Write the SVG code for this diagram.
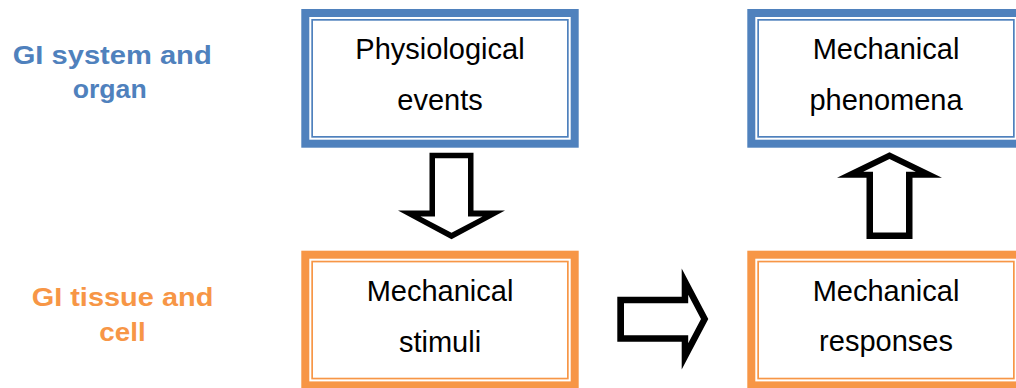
<svg xmlns="http://www.w3.org/2000/svg" width="1016" height="388" viewBox="0 0 1016 388">
<style>
.bg{fill:#ffffff}
.band{fill:none;stroke-width:8}
.thin{fill:none;stroke-width:1.7}
.blue{stroke:#4F81BD}
.orange{stroke:#F79646}
.t{font-family:"Liberation Sans",Arial,sans-serif;font-size:29px;fill:#000;text-anchor:middle}
.lab{font-family:"Liberation Sans",Arial,sans-serif;font-size:25px;font-weight:bold;text-anchor:middle}
.lb{fill:#4F81BD}
.lo{fill:#F79646}
.ao{fill:#000}
.ai{fill:#fff}
</style>
<rect class="bg" x="0" y="0" width="1016" height="388"/>
<g id="label-organ">
<text class="lab lb" x="112.2" y="64" textLength="199" lengthAdjust="spacingAndGlyphs">GI system and</text>
<text class="lab lb" x="109.7" y="98" textLength="74" lengthAdjust="spacingAndGlyphs">organ</text>
</g>
<g id="label-cell">
<text class="lab lo" x="122.5" y="306" textLength="181.7" lengthAdjust="spacingAndGlyphs">GI tissue and</text>
<text class="lab lo" x="122.5" y="340.7" textLength="46.4" lengthAdjust="spacingAndGlyphs">cell</text>
</g>
<g id="node-physiological">
<rect class="band blue" x="305.3" y="13" width="269.4" height="130.7"/>
<rect class="thin blue" x="312.15" y="19.85" width="255.7" height="117"/>
<text class="t" x="440" y="58.5">Physiological</text>
<text class="t" x="440" y="109.5">events</text>
</g>
<g id="node-phenomena">
<rect class="band blue" x="751.3" y="13" width="269.4" height="130.7"/>
<rect class="thin blue" x="758.15" y="19.85" width="255.7" height="117"/>
<text class="t" x="886" y="59">Mechanical</text>
<text class="t" x="886" y="109.5">phenomena</text>
</g>
<g id="node-stimuli">
<rect class="band orange" x="305.3" y="254.7" width="269.4" height="130.7"/>
<rect class="thin orange" x="312.15" y="261.55" width="255.7" height="117"/>
<text class="t" x="440" y="301">Mechanical</text>
<text class="t" x="440" y="351.5">stimuli</text>
</g>
<g id="node-responses">
<rect class="band orange" x="751.3" y="254.7" width="269.4" height="130.7"/>
<rect class="thin orange" x="758.15" y="261.55" width="255.7" height="117"/>
<text class="t" x="886" y="301">Mechanical</text>
<text class="t" x="886" y="351">responses</text>
</g>
<g id="connectors">
<g id="arrow-down">
<polygon class="ao" points="429.5,152.7 473.5,152.7 473.5,210.5 505,210.5 451.5,239.3 398,210.5 429.5,210.5"/>
<polygon class="ai" points="435,158.3 468,158.3 468,216.5 482.5,216.5 451.5,232.8 420.5,216.5 435,216.5"/>
</g>
<g id="arrow-right">
<polygon class="ao" points="617.3,296.7 681.7,296.7 681.7,268.5 708.3,319 681.7,369.5 681.7,341.7 617.3,341.7"/>
<polygon class="ai" points="624,303.2 688.2,303.2 688.2,294.8 701,319 688.2,343.2 688.2,335.2 624,335.2"/>
</g>
<g id="arrow-up">
<polygon class="ao" points="866.5,239 912.5,239 912.5,177.7 942,177.7 889.5,152.3 837,177.7 866.5,177.7"/>
<polygon class="ai" points="873,232.5 906,232.5 906,171.7 915.8,171.7 889.5,159 863.2,171.7 873,171.7"/>
</g>
</g>
</svg>
